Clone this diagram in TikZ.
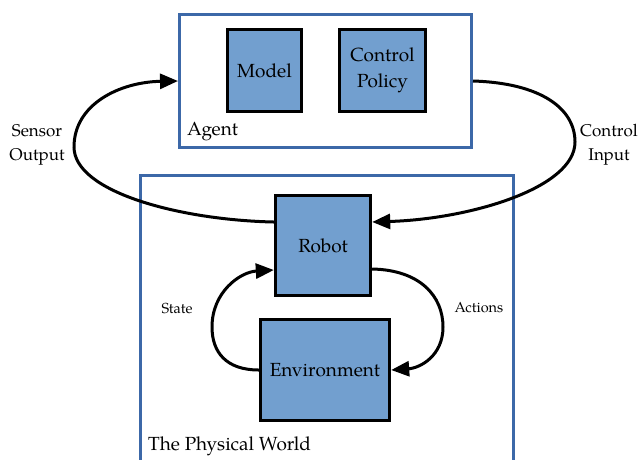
\documentclass[tikz,border=0pt]{standalone}
\usepackage{fontspec}
\setmainfont{TeX Gyre Pagella}
\usetikzlibrary{arrows.meta}
\definecolor{frameblue}{RGB}{60,104,168}
\definecolor{boxfill}{RGB}{114,159,207}
\tikzset{
  blk/.style={draw=black, line width=3.4pt, fill=boxfill, inner sep=0pt, align=center, font=\fontsize{19}{26.5}\selectfont},
  frame/.style={draw=frameblue, line width=3pt, inner sep=0pt, fill=none},
  flow/.style={draw=black, line width=3pt, -{Triangle[length=18pt,width=15pt]}},
  side/.style={align=center, font=\fontsize{17}{24}\selectfont, inner sep=0pt},
  small/.style={font=\fontsize{14.5}{16}\selectfont, inner sep=0pt},
  title/.style={font=\fontsize{19}{22}\selectfont, inner sep=0pt, anchor=west}
}
\begin{document}
\begin{tikzpicture}[x=1pt,y=-1pt]
\useasboundingbox (0,0) rectangle (639,459);
\clip (0,0) rectangle (639,459);
% frames
\node[frame, minimum width=292pt, minimum height=133pt] (agent) at (325.5,81) {};
\node[frame, minimum width=373pt, minimum height=330pt] (world) at (327,340.5) {};
% boxes
\node[blk, minimum width=74pt, minimum height=82pt] (model) at (264.5,70.5) {Model};
\node[blk, minimum width=86pt, minimum height=82pt] (policy) at (382.5,70.5) {Control\\Policy};
\node[blk, minimum width=95pt, minimum height=100pt] (robot) at (323,245.5) {Robot};
\node[blk, minimum width=129pt, minimum height=101pt] (env) at (325,370) {Environment};
% labels
\node[title] (agentlbl) at (187,132) {Agent};
\node[title] (worldlbl) at (148,446) {The Physical World};
\node[side] (sensorlbl) at (37,145) {Sensor\\Output};
\node[side] (controllbl) at (609,145) {Control\\Input};
\node[small] (statelbl) at (177,308) {State};
\node[small] (actionslbl) at (479,308) {Actions};
% connectors
\draw[flow] ([yshift=23.5pt]robot.west) .. controls (180,220) and (74,192) .. (74,147)
  .. controls (74,104) and (120,82) .. (agent.west);
\draw[flow] (agent.east) .. controls (540,83) and (575,108) .. (575,142)
  .. controls (575,188) and (470,219) .. ([yshift=23.5pt]robot.east);
\draw[flow] (env.west) .. controls (226,370) and (212,352) .. (212,327)
  .. controls (212,292) and (240,272) .. ([yshift=-24.5pt]robot.west);
\draw[flow] ([yshift=-23.5pt]robot.east) .. controls (420,270) and (443,296) .. (443,327)
  .. controls (443,356) and (420,368) .. (env.east);
\end{tikzpicture}
\end{document}
